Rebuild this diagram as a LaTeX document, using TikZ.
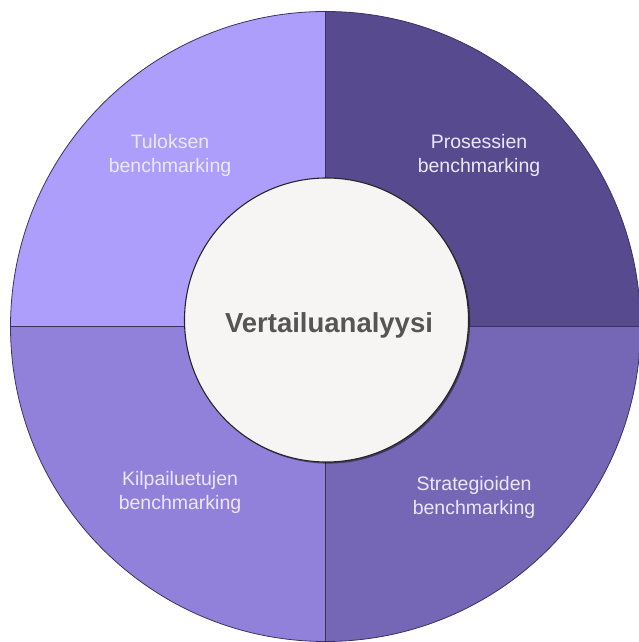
\documentclass[tikz,border=0pt]{standalone}
\usepackage{fontspec}
\setmainfont{Liberation Sans}
\usetikzlibrary{shadows}

\definecolor{qtl}{HTML}{AE9EFB}
\definecolor{qtr}{HTML}{574A8E}
\definecolor{qbl}{HTML}{9181DB}
\definecolor{qbr}{HTML}{7566B6}
\definecolor{rim}{HTML}{3B3263}
\definecolor{hubfill}{HTML}{F7F5F4}
\definecolor{hubtext}{HTML}{555555}
\definecolor{labeltext}{HTML}{ECE8FB}

\tikzset{
  quadrant/.style={draw=rim, line width=0.8pt},
  quadlabel/.style={text=labeltext, align=center, anchor=base,
    font=\fontsize{19.5}{24}\selectfont},
  hubnode/.style={circle, draw=black!85, line width=1.1pt, fill=hubfill,
    minimum size=284pt, inner sep=0pt, text=hubtext,
    font=\fontsize{27.5}{32}\selectfont\bfseries,
    drop shadow={shadow xshift=1.6pt, shadow yshift=-1.6pt, opacity=0.45, fill=black}},
}

\begin{document}
\begin{tikzpicture}[x=1pt, y=1pt]
  \useasboundingbox (0,0) rectangle (639,642);
  \coordinate (c) at (325.5,315.5);
  \def\R{315}

  % four wedges of the outer ring
  \fill[qtl] (c) -- ++(90:\R) arc (90:180:\R) -- cycle;
  \fill[qtr] (c) -- ++(0:\R) arc (0:90:\R) -- cycle;
  \fill[qbl] (c) -- ++(180:\R) arc (180:270:\R) -- cycle;
  \fill[qbr] (c) -- ++(270:\R) arc (270:360:\R) -- cycle;
  \draw[quadrant] (c) -- ++(90:\R) arc (90:180:\R) -- cycle;
  \draw[quadrant] (c) -- ++(0:\R) arc (0:90:\R) -- cycle;
  \draw[quadrant] (c) -- ++(180:\R) arc (180:270:\R) -- cycle;
  \draw[quadrant] (c) -- ++(270:\R) arc (270:360:\R) -- cycle;

  % central circle
  \node[hubnode] (hub) at (326.5,322) {};
  \node[text=hubtext, font=\fontsize{27.5}{32}\selectfont\bfseries, anchor=base]
    (hubtitle) at (329,309) {Vertailuanalyysi};

  % quadrant labels (anchored at the baseline of the second line)
  \node[quadlabel] (tulos) at (170,469) {Tuloksen\\benchmarking};
  \node[quadlabel] (prosessi) at (479,469) {Prosessien\\benchmarking};
  \node[quadlabel] (kilpailu) at (180,132) {Kilpailuetujen\\benchmarking};
  \node[quadlabel] (strategia) at (474,127) {Strategioiden\\benchmarking};
\end{tikzpicture}
\end{document}
